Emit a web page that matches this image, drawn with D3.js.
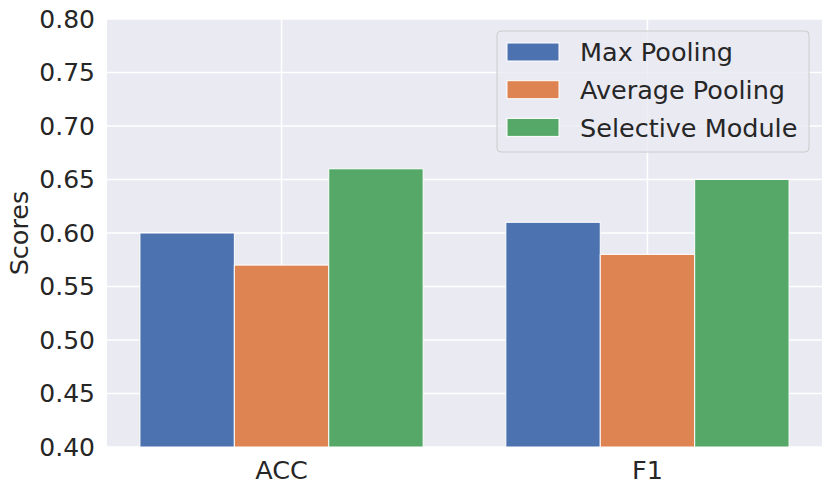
<!DOCTYPE html>
<html>
<head>
<meta charset="utf-8">
<style>
    body { margin:0; background:#ffffff; }
    text { font-family:"DejaVu Sans", sans-serif; fill:#262626; }
</style>
</head>
<body>
<svg id="plot"></svg>
<script src="https://d3js.org/d3.v7.min.js"></script>
<script>

// data
var categories = ["ACC", "F1"];
var seriesNames = ["Max Pooling", "Average Pooling", "Selective Module"];
var maxPooling = [0.60, 0.61];
var avgPooling = [0.57, 0.58];
var selective = [0.66, 0.65];
var yTicks = [0.40, 0.45, 0.50, 0.55, 0.60, 0.65, 0.70, 0.75, 0.80];

var colors = ["#4c72b0", "#dd8452", "#55a868"];
var seriesValues = [maxPooling, avgPooling, selective];

//the size of the screen
var screen = {width:831, height:493};

//plot box
var margins = {top:19, bottom:46, left:107, right:9};

var graph = {
    width:screen.width - margins.left - margins.right,
    height:screen.height - margins.top - margins.bottom
};

var barWidth = 0.258;

var xScale = d3.scaleLinear()
    .domain([-0.477, 1.477])
    .range([0, graph.width]);

var yScale = d3.scaleLinear()
    .domain([0.40, 0.80])
    .range([graph.height, 0]);

var svg = d3.select("#plot")
    .attr("width", screen.width)
    .attr("height", screen.height);

var g = svg.append("g")
    .attr("transform", "translate(" + margins.left + "," + margins.top + ")");

// background
g.append("rect")
    .attr("width", graph.width)
    .attr("height", graph.height)
    .attr("fill", "#eaeaf2");

// grid
g.selectAll(".hgrid")
    .data(yTicks)
    .enter()
    .append("line")
    .attr("x1", 0)
    .attr("x2", graph.width)
    .attr("y1", function(d){ return yScale(d); })
    .attr("y2", function(d){ return yScale(d); })
    .attr("stroke", "#ffffff")
    .attr("stroke-width", 1.5);

g.selectAll(".vgrid")
    .data(categories)
    .enter()
    .append("line")
    .attr("x1", function(d, i){ return xScale(i); })
    .attr("x2", function(d, i){ return xScale(i); })
    .attr("y1", 0)
    .attr("y2", graph.height)
    .attr("stroke", "#ffffff")
    .attr("stroke-width", 1.5);

// bars
var rows = [];
seriesValues.forEach(function(vals, s) {
    vals.forEach(function(v, i) {
        rows.push({series:s, cat:i, value:v});
    });
});

g.selectAll(".bar")
    .data(rows)
    .enter()
    .append("rect")
    .attr("x", function(d){ return xScale(d.cat + (d.series - 1.5) * barWidth); })
    .attr("y", function(d){ return yScale(d.value); })
    .attr("width", function(d){ return xScale(barWidth) - xScale(0); })
    .attr("height", function(d){ return graph.height - yScale(d.value); })
    .attr("fill", function(d){ return colors[d.series]; })
    .attr("stroke", "#ffffff")
    .attr("stroke-width", 1);

// axes
var yAxis = d3.axisLeft(yScale)
    .tickValues(yTicks)
    .tickFormat(d3.format(".2f"))
    .tickSize(0)
    .tickPadding(12);

var yG = g.append("g").call(yAxis);
yG.select(".domain").remove();
yG.selectAll("text")
    .attr("font-size", 25)
    .attr("font-family", "DejaVu Sans")
    .attr("fill", "#262626");

var xG = g.append("g")
    .attr("transform", "translate(0," + graph.height + ")");

xG.selectAll("text")
    .data(categories)
    .enter()
    .append("text")
    .attr("x", function(d, i){ return xScale(i); })
    .attr("y", 32)
    .attr("text-anchor", "middle")
    .attr("font-size", 25.5)
    .text(function(d){ return d; });

// y label
svg.append("text")
    .attr("transform", "translate(28," + (margins.top + graph.height / 2) + ") rotate(-90)")
    .attr("text-anchor", "middle")
    .attr("font-size", 25.5)
    .text("Scores");

// legend
var legend = g.append("g")
    .attr("transform", "translate(" + (497 - margins.left) + "," + (31 - margins.top) + ")");

legend.append("rect")
    .attr("width", 312)
    .attr("height", 121)
    .attr("rx", 4)
    .attr("ry", 4)
    .attr("fill", "#eaeaf2")
    .attr("fill-opacity", 0.8)
    .attr("stroke", "#cccccc")
    .attr("stroke-width", 1);

var items = legend.selectAll(".item")
    .data(seriesNames)
    .enter()
    .append("g")
    .attr("transform", function(d, i){ return "translate(0," + (21 + i * 37.7) + ")"; });

items.append("rect")
    .attr("x", 10)
    .attr("y", -9)
    .attr("width", 52)
    .attr("height", 18)
    .attr("fill", function(d, i){ return colors[i]; })
    .attr("stroke", "#ffffff")
    .attr("stroke-width", 1);

items.append("text")
    .attr("x", 83)
    .attr("dy", "0.36em")
    .attr("font-size", 25.5)
    .text(function(d){ return d; });

</script>
</body>
</html>
